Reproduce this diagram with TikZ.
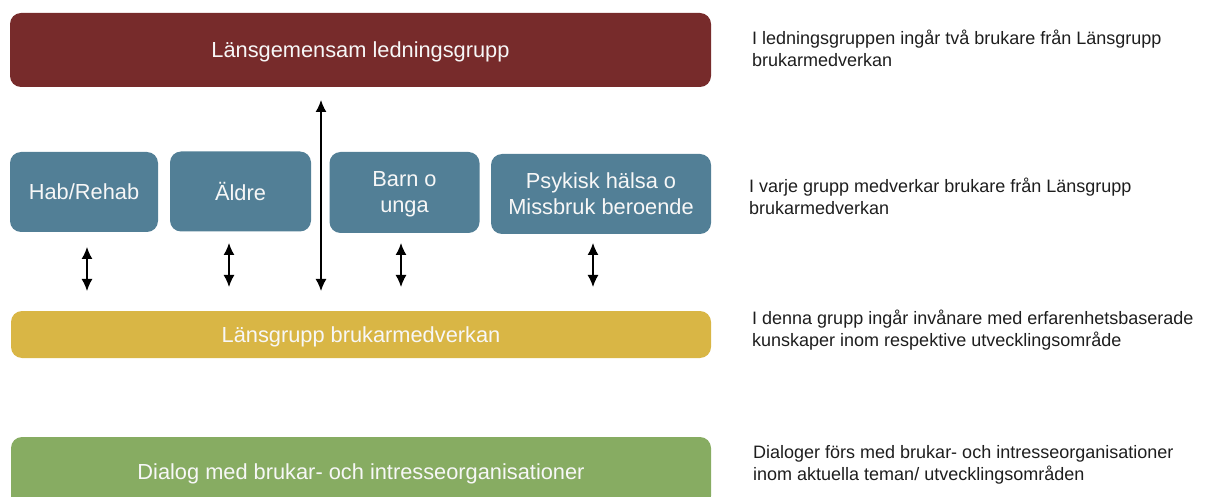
\documentclass[tikz,border=0pt]{standalone}
\usepackage{fontspec}
\setmainfont{Liberation Sans}
\usetikzlibrary{arrows.meta}
\definecolor{ledred}{HTML}{772B2B}
\definecolor{grpblue}{HTML}{527F96}
\definecolor{brkyellow}{HTML}{D9B645}
\definecolor{dlggreen}{HTML}{87AC62}
\definecolor{boxtext}{HTML}{F7F7F7}
\definecolor{notetext}{HTML}{1E1E1E}
\tikzset{
  box/.style={rounded corners=11pt, text=boxtext, font=\fontsize{21.8}{26}\selectfont,
    align=center, inner sep=0pt, text depth=0pt},
  note/.style={anchor=base west, align=left, font=\fontsize{18}{22}\selectfont,
    text=notetext, inner sep=0pt},
  arr/.style={{Latex[length=12pt,width=11pt]}-{Latex[length=12pt,width=11pt]}, line width=1.4pt},
}
\begin{document}
\begin{tikzpicture}[x=1pt,y=-1pt]
\useasboundingbox (0,0) rectangle (1208,497);
\begin{scope}
\clip (0,0) rectangle (1208,497);
% main boxes
\node[box, fill=ledred, minimum width=701pt, minimum height=74pt] (led) at (360.5,50) {Länsgemensam ledningsgrupp};
\node[box, fill=grpblue, minimum width=148pt, minimum height=80pt] (hab) at (84,192) {Hab/Rehab};
\node[box, fill=grpblue, minimum width=141pt, minimum height=80pt] (ald) at (240.5,191.5) {Äldre};
\node[box, fill=grpblue, minimum width=150pt, minimum height=81pt] (barn) at (404.5,192.5) {Barn o\\unga};
\node[box, fill=grpblue, minimum width=220pt, minimum height=80pt] (psyk) at (601,194) {Psykisk hälsa o\\Missbruk beroende};
\node[box, fill=brkyellow, minimum width=700pt, minimum height=47pt] (lans) at (361,334.5) {Länsgrupp brukarmedverkan};
\node[box, fill=dlggreen, minimum width=700pt, minimum height=70pt] (dlg) at (361,472) {Dialog med brukar- och intresseorganisationer};
\end{scope}
% arrow end points
\coordinate (a1t) at (87,247); \coordinate (a1b) at (87,291);
\coordinate (a2t) at (229,243); \coordinate (a2b) at (229,287);
\coordinate (a3t) at (321,100); \coordinate (a3b) at (321,291);
\coordinate (a4t) at (401,243); \coordinate (a4b) at (401,287);
\coordinate (a5t) at (593,243); \coordinate (a5b) at (593,287);
\draw[arr] (a1t) -- (a1b);
\draw[arr] (a2t) -- (a2b);
\draw[arr] (a3t) -- (a3b);
\draw[arr] (a4t) -- (a4b);
\draw[arr] (a5t) -- (a5b);
% notes
\node[note] (n1) at (752,67) {I ledningsgruppen ingår två brukare från Länsgrupp\\brukarmedverkan};
\node[note] (n2) at (749,215) {I varje grupp medverkar brukare från Länsgrupp\\brukarmedverkan};
\node[note] (n3) at (752,346) {I denna grupp ingår invånare med erfarenhetsbaserade\\kunskaper inom respektive utvecklingsområde};
\node[note] (n4) at (753,480) {Dialoger förs med brukar- och intresseorganisationer\\inom aktuella teman/ utvecklingsområden};
\end{tikzpicture}
\end{document}
